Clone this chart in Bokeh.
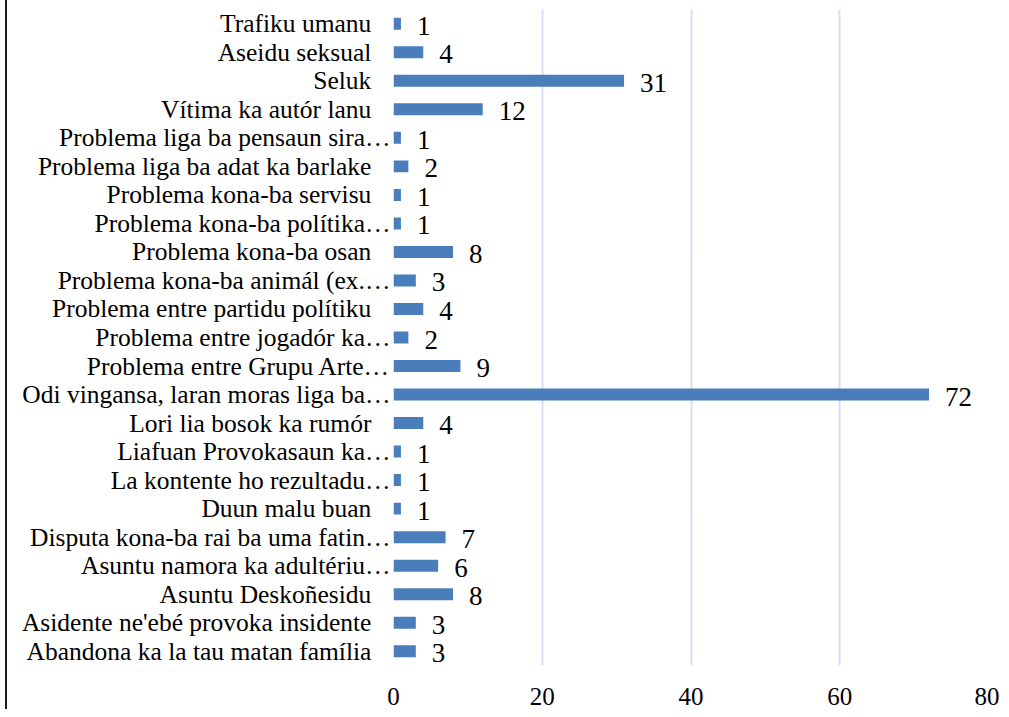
from bokeh.plotting import figure
from bokeh.models import ColumnDataSource, FactorRange, Range1d, FixedTicker
from bokeh.core.properties import value
from bokeh.embed import file_html
from bokeh.resources import INLINE

# categories from top to bottom as shown
categories = [
    "Trafiku umanu",
    "Aseidu seksual",
    "Seluk",
    "Vítima ka autór lanu",
    "Problema liga ba pensaun sira…",
    "Problema liga ba adat ka barlake",
    "Problema kona-ba servisu",
    "Problema kona-ba polítika…",
    "Problema kona-ba osan",
    "Problema kona-ba animál (ex.…",
    "Problema entre partidu polítiku",
    "Problema entre jogadór ka…",
    "Problema entre Grupu Arte…",
    "Odi vingansa, laran moras liga ba…",
    "Lori lia bosok ka rumór",
    "Liafuan Provokasaun ka…",
    "La kontente ho rezultadu…",
    "Duun malu buan",
    "Disputa kona-ba rai ba uma fatin…",
    "Asuntu namora ka adultériu…",
    "Asuntu Deskoñesidu",
    "Asidente ne'ebé provoka insidente",
    "Abandona ka la tau matan família",
]
counts = [1, 4, 31, 12, 1, 2, 1, 1, 8, 3, 4, 2, 9, 72, 4, 1, 1, 1, 7, 6, 8, 3, 3]
x_ticks = [0, 20, 40, 60, 80]

# labels that are not truncated carry trailing spacing in the original
disp = [c if c.endswith("…") else c + "\u00a0\u00a0\u00a0" for c in categories]

factors = list(reversed(disp))
src = ColumnDataSource(dict(cat=disp, val=counts, lbl=[str(v) for v in counts]))

FONT = "Liberation Serif"

p = figure(
    width=994, height=709,
    y_range=FactorRange(factors=factors, range_padding=0),
    x_range=Range1d(0, 80),
    output_backend="svg", toolbar_location=None,
    min_border_left=386, min_border_right=13, min_border_top=9, min_border_bottom=44,
)
p.styles = {"border-left": "2px solid #1a1a1a", "margin-left": "5px"}
p.outline_line_color = None
p.background_fill_color = "white"

p.hbar(y="cat", right="val", left=0, height=0.42, source=src,
       fill_color="#4a7ebb", line_color=None)

p.text(x="val", y="cat", text="lbl", source=src, x_offset=16, y_offset=2,
       text_align="left", text_baseline="middle",
       text_font=value(FONT), text_font_size="27px", text_color="black")

p.xaxis.ticker = FixedTicker(ticks=x_ticks)
p.xaxis.axis_line_color = None
p.xaxis.major_tick_line_color = None
p.xaxis.minor_tick_line_color = None
p.xaxis.major_label_standoff = 16
p.xaxis.major_label_text_font = FONT
p.xaxis.major_label_text_font_size = "25px"
p.xaxis.major_label_text_color = "black"

p.yaxis.axis_line_color = None
p.yaxis.major_tick_line_color = None
p.yaxis.minor_tick_line_color = None
p.yaxis.major_label_standoff = -3
p.yaxis.major_label_text_font = FONT
p.yaxis.major_label_text_font_size = "25.5px"
p.yaxis.major_label_text_color = "black"

p.xgrid.grid_line_color = "#d4e1f2"
p.xgrid.grid_line_width = 2
p.ygrid.grid_line_color = None

open("out.html", "w").write(file_html(p, INLINE))
